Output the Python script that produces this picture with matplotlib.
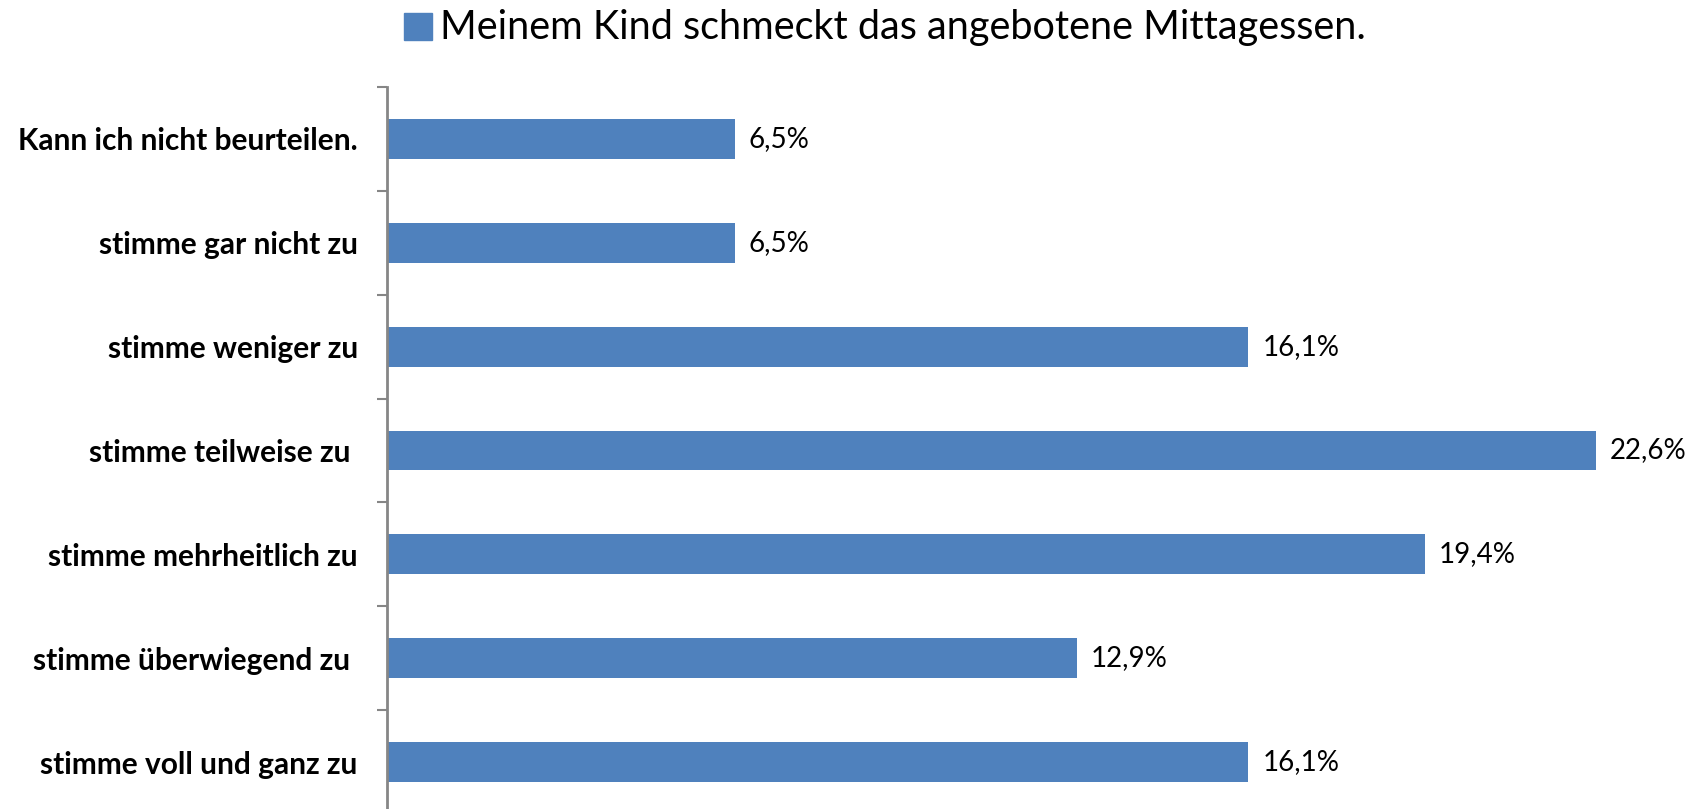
import matplotlib
matplotlib.use("Agg")
import matplotlib.pyplot as plt
import numpy as np

# categories from bottom to top
categories = [
    "stimme voll und ganz zu",
    "stimme überwiegend zu ",
    "stimme mehrheitlich zu",
    "stimme teilweise zu ",
    "stimme weniger zu",
    "stimme gar nicht zu",
    "Kann ich nicht beurteilen.",
]
values = [16.1, 12.9, 19.4, 22.6, 16.1, 6.5, 6.5]
series_name = "Meinem Kind schmeckt das angebotene Mittagessen."

BAR = "#4f81bd"
AXIS = "#868686"
W, H = 1702, 809

plt.rcParams["font.family"] = ["Lato", "DejaVu Sans"]

fig = plt.figure(figsize=(W / 100, H / 100), dpi=100)
# plot area: left edge at the axis line, bottom runs just past the figure
left, right, top, bottom = 387, W, 87, 814
ax = fig.add_axes([left / W, (H - bottom) / H, (right - left) / W, (bottom - top) / H])

y = np.arange(len(categories))
ax.barh(y, values, height=0.385, color=BAR, zorder=2)
ax.set_ylim(-0.5, len(categories) - 0.5)
ax.set_xlim(0, (right - left) / 53.5)

for yi, v in zip(y, values):
    ax.annotate(f"{v:.1f}%".replace(".", ","), (v, yi), xytext=(14, 0),
                textcoords="offset pixels", va="center", ha="left",
                fontsize=20, color="black")

ax.set_yticks(y)
ax.set_yticklabels(categories, fontsize=21.5, fontweight="bold")
ax.tick_params(axis="y", which="major", length=0, pad=21)
ax.set_yticks(np.arange(-0.5, len(categories), 1.0), minor=True)
ax.tick_params(axis="y", which="minor", length=7, width=1.5, color=AXIS, direction="out")
ax.set_xticks([])

for s in ("top", "right", "bottom"):
    ax.spines[s].set_visible(False)
ax.spines["left"].set_color(AXIS)
ax.spines["left"].set_linewidth(2)

# legend at the top
fig.patches.append(plt.Rectangle((404 / W, 1 - 40 / H), 28 / W, 27 / H,
                                 transform=fig.transFigure, color=BAR))
fig.text(440 / W, 1 - 27 / H, series_name, fontsize=28.5, va="center", ha="left")

fig.savefig("out.png", dpi=100)
